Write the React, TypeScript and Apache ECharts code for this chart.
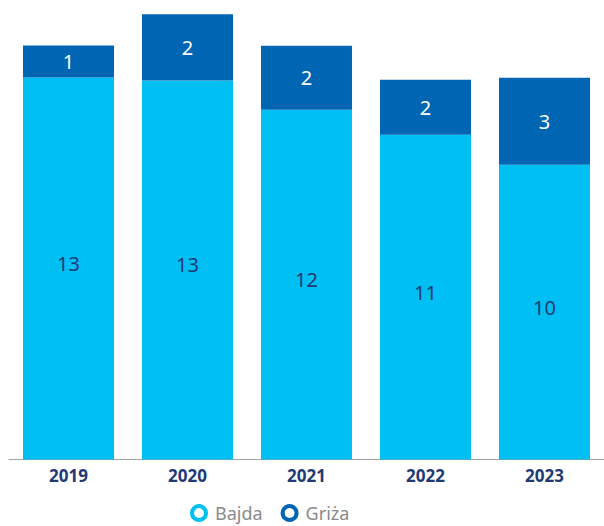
import React, { useEffect, useRef } from "react";
import * as echarts from "echarts";

const categories = ["2019", "2020", "2021", "2022", "2023"];
const bajda = [13.0, 12.9, 11.9, 11.05, 10.03];
const griza = [1.09, 2.25, 2.18, 1.87, 2.96];

export default function App() {
  const ref = useRef<HTMLDivElement>(null);
  useEffect(() => {
    if (!ref.current) return;
    const chart = echarts.init(ref.current, null, { renderer: "svg" });
    const font = "'Noto Sans', 'Open Sans', sans-serif";
    chart.setOption({
      animation: false,
      grid: { left: 9, right: -2, top: 4, bottom: 66.5, containLabel: false },
      legend: {
        left: 190,
        top: 503,
        padding: 0,
        itemWidth: 14,
        itemHeight: 14,
        itemGap: 18,
        icon: "circle",
        textStyle: { color: "#8a8a8a", fontSize: 18, lineHeight: 20, fontFamily: font, padding: [0, 0, 0, 4] },
        data: [
          { name: "Bajda", itemStyle: { color: "#fff", borderColor: "#00bff3", borderWidth: 4 } },
          { name: "Griża", itemStyle: { color: "#fff", borderColor: "#0066b3", borderWidth: 4 } },
        ],
      },
      xAxis: {
        type: "category",
        data: categories,
        axisLine: { lineStyle: { color: "#a0a0a0", width: 1 } },
        axisTick: { show: false },
        axisLabel: { color: "#1f3a74", fontSize: 17, fontWeight: "bold", fontFamily: font, margin: 7 },
      },
      yAxis: { type: "value", min: 0, max: 15.5, show: false, splitLine: { show: false } },
      series: [
        {
          name: "Bajda",
          type: "bar",
          stack: "t",
          barWidth: 91,
          data: bajda,
          itemStyle: { color: "#00bff3" },
          label: {
            show: true,
            position: "inside",
            offset: [0, -5],
            color: "#1f3a74",
            fontSize: 20,
            fontFamily: font,
            formatter: (p: any) => String(Math.round(p.value)),
          },
        },
        {
          name: "Griża",
          type: "bar",
          stack: "t",
          barWidth: 91,
          data: griza,
          itemStyle: { color: "#0066b3" },
          label: {
            show: true,
            position: "inside",
            color: "#ffffff",
            fontSize: 20,
            fontFamily: font,
            formatter: (p: any) => String(Math.round(p.value)),
          },
        },
      ],
    });
    return () => chart.dispose();
  }, []);
  return (
    <div
      ref={ref}
      style={{ position: "fixed", left: 0, top: 0, width: 604, height: 526, background: "#fff" }}
    />
  );
}
